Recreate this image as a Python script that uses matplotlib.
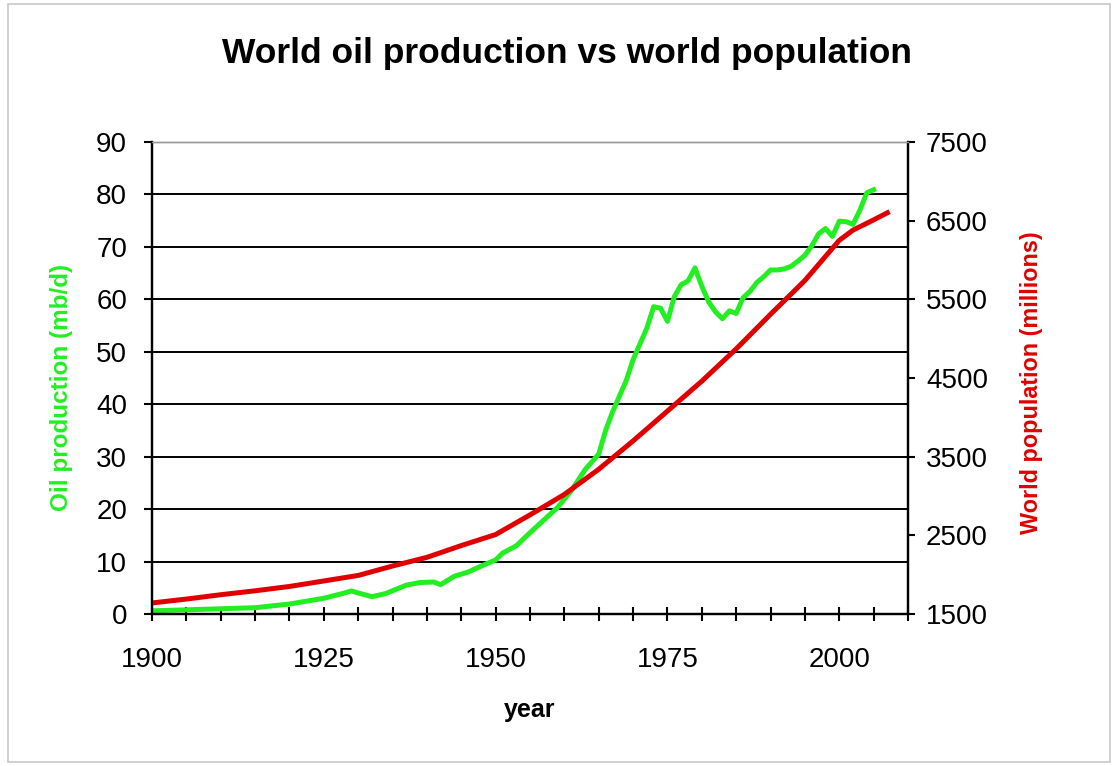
import matplotlib
matplotlib.use("Agg")
import matplotlib.pyplot as plt
from matplotlib.patches import Rectangle

# ---- data ----
oil_years = [1900, 1905, 1910, 1915, 1920, 1925, 1928, 1929, 1930, 1932, 1934, 1937,
             1939, 1941, 1942, 1944, 1946, 1948, 1950, 1951, 1953, 1955, 1957, 1959,
             1961, 1963, 1965, 1966, 1967, 1968, 1969, 1970, 1971, 1972, 1973, 1974,
             1975, 1976, 1977, 1978, 1979, 1980, 1981, 1982, 1983, 1984, 1985, 1986,
             1987, 1988, 1989, 1990, 1991, 1992, 1993, 1994, 1995, 1996, 1997, 1998,
             1999, 2000, 2001, 2002, 2003, 2004, 2005]
oil_mbd = [0.6, 0.8, 1.0, 1.2, 1.9, 3.0, 4.0, 4.4, 4.0, 3.3, 3.9, 5.5,
           6.0, 6.1, 5.6, 7.2, 8.0, 9.2, 10.3, 11.6, 13.0, 15.5, 17.9, 20.3,
           23.5, 27.5, 30.5, 35.0, 38.5, 41.5, 44.5, 48.5, 51.5, 54.5, 58.6, 58.3,
           55.8, 60.5, 62.8, 63.5, 66.0, 62.5, 59.5, 57.6, 56.3, 57.8, 57.3, 60.3,
           61.5, 63.2, 64.3, 65.6, 65.6, 65.8, 66.3, 67.3, 68.4, 70.2, 72.5, 73.5,
           72.0, 74.9, 74.8, 74.3, 77.0, 80.3, 80.9]

pop_years = [1900, 1905, 1910, 1915, 1920, 1925, 1930, 1935, 1940, 1945, 1950, 1955,
             1960, 1965, 1970, 1975, 1980, 1985, 1990, 1995, 2000, 2002, 2005, 2007]
pop_millions = [1640, 1690, 1745, 1795, 1850, 1920, 1990, 2110, 2220, 2370, 2510, 2760,
                3020, 3340, 3700, 4080, 4460, 4870, 5310, 5740, 6250, 6380, 6510, 6600]

x_ticks = list(range(1900, 2011, 5))
x_labeled = [1900, 1925, 1950, 1975, 2000]
oil_ticks = list(range(0, 91, 10))
pop_ticks = list(range(1500, 7501, 1000))

title = "World oil production vs world population"
xlabel = "year"
ylabel_left = "Oil production (mb/d)"
ylabel_right = "World population (millions)"

# ---- figure ----
fig = plt.figure(figsize=(11.15, 7.66), dpi=100)
fig.patch.set_facecolor("white")
fig.patches.append(Rectangle((8 / 1115, 4 / 766), 1102 / 1115, 758 / 766,
                             transform=fig.transFigure, fill=False,
                             edgecolor="#c8c8c8", linewidth=1.2))

ax = fig.add_axes([152 / 1115, 1 - 614 / 766, 756 / 1115, 472 / 766])
ax2 = ax.twinx()

green = "#22EE22"
red = "#E00000"

ax.plot(oil_years, oil_mbd, color=green, linewidth=3.6, solid_joinstyle="round")
ax2.plot(pop_years, pop_millions, color=red, linewidth=3.6, solid_joinstyle="round")

ax.set_xlim(1900, 2010)
ax.set_ylim(0, 90)
ax2.set_ylim(1500, 7500)

ax.set_xticks(x_ticks)
ax.set_xticklabels([str(y) if y in x_labeled else "" for y in x_ticks])
ax.set_yticks(oil_ticks)
ax2.set_yticks(pop_ticks)

for lab in ax.get_xticklabels() + ax.get_yticklabels() + ax2.get_yticklabels():
    lab.set_fontfamily("Liberation Sans")
    lab.set_fontsize(20)

ax.tick_params(axis="x", direction="inout", length=10, width=1.5, pad=19, colors="black")
ax.tick_params(axis="y", direction="out", length=6, width=1.5, pad=12)
ax2.tick_params(axis="y", direction="out", length=5, width=1.5, pad=8)

ax.yaxis.grid(True, color="black", linewidth=1.4)
ax.set_axisbelow(True)

for a in (ax, ax2):
    a.spines["top"].set_color("#999999")
    a.spines["top"].set_linewidth(1.0)
    a.spines["left"].set_linewidth(1.6)
    a.spines["bottom"].set_linewidth(1.6)
    a.spines["right"].set_linewidth(1.6)

ax.set_xlabel(xlabel, fontfamily="Liberation Sans", fontweight="bold", fontsize=18, labelpad=18)
ax.set_ylabel(ylabel_left, fontfamily="Liberation Sans", fontweight="bold", fontsize=17.5,
              color=green, labelpad=16)
ax.yaxis.set_label_coords(-0.104, 0.48)
ax2.set_ylabel(ylabel_right, fontfamily="Liberation Sans", fontweight="bold", fontsize=16.8,
               color=red, labelpad=22)
ax2.yaxis.set_label_coords(1.148, 0.49)

fig.text(567 / 1115, 1 - 53 / 766, title, ha="center", va="center",
         fontfamily="Liberation Sans", fontweight="bold", fontsize=25.5)

fig.savefig("out.png", dpi=100, facecolor="white")
